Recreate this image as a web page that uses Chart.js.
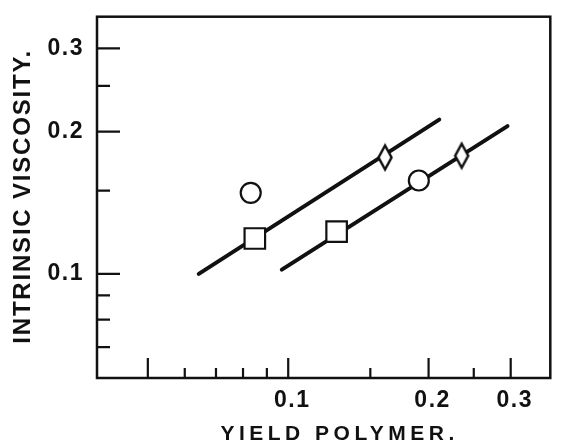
<!DOCTYPE html>
<html>
<head>
<meta charset="utf-8">
<script src="https://cdn.jsdelivr.net/npm/chart.js@4.4.1/dist/chart.umd.min.js"></script>
<style>
  html, body { margin: 0; padding: 0; background: #fff; }
  #wrap { width: 567px; height: 444px; }
</style>
</head>
<body>
<div id="wrap"><canvas id="grafico" width="567" height="444"></canvas></div>
<script>
// values
var lineA = [{x: 0.0643, y: 0.100}, {x: 0.2108, y: 0.212}];
var lineB = [{x: 0.0969, y: 0.1021}, {x: 0.2953, y: 0.2054}];
var squares = [{x: 0.0848, y: 0.1188}, {x: 0.127, y: 0.1228}];
var circles = [{x: 0.0831, y: 0.1484}, {x: 0.1906, y: 0.1576}];
var diamonds = [{x: 0.1613, y: 0.1763}, {x: 0.2355, y: 0.1778}];

var xLabels = [0.1, 0.2, 0.3];
var xMajor = [0.05, 0.1, 0.2, 0.3];
var xMinor = [0.06, 0.07, 0.08, 0.09, 0.15, 0.25];
var yLabels = [0.1, 0.2, 0.3];
var yMajor = [0.1, 0.2, 0.3];
var yMinor = [0.07, 0.08, 0.09, 0.15, 0.25];

var xTitle = 'YIELD POLYMER.';
var yTitle = 'INTRINSIC VISCOSITY.';

var ink = '#111';

// narrow open diamond marker
function diamondMark() {
    var c = document.createElement('canvas');
    c.width = 20;
    c.height = 30;
    var g = c.getContext('2d');
    g.beginPath();
    g.moveTo(10, 3);
    g.lineTo(16.5, 15);
    g.lineTo(10, 27);
    g.lineTo(3.5, 15);
    g.closePath();
    g.fillStyle = '#fff';
    g.fill();
    g.lineWidth = 2.5;
    g.strokeStyle = ink;
    g.stroke();
    return c;
}

// wider spacing for the tick labels, like the hand lettering
var spacing = {
    id: 'spacing',
    beforeDraw: function(chart) { chart.ctx.letterSpacing = '1.5px'; },
    beforeDatasetsDraw: function(chart) { chart.ctx.letterSpacing = '0px'; }
};

// frame, inward tick marks and spaced axis titles
var frame = {
    id: 'frame',
    afterDraw: function(chart) {
        var ctx = chart.ctx, a = chart.chartArea;
        var sx = chart.scales.x, sy = chart.scales.y;
        ctx.save();
        ctx.strokeStyle = ink;
        ctx.lineWidth = 2.5;
        ctx.strokeRect(a.left, a.top, a.right - a.left, a.bottom - a.top);

        ctx.lineWidth = 2.2;
        ctx.beginPath();
        xMajor.forEach(function(v) {
            var p = sx.getPixelForValue(v);
            ctx.moveTo(p, a.bottom);
            ctx.lineTo(p, a.bottom - 20);
        });
        xMinor.forEach(function(v) {
            var p = sx.getPixelForValue(v);
            ctx.moveTo(p, a.bottom);
            ctx.lineTo(p, a.bottom - 10);
        });
        yMajor.forEach(function(v) {
            var p = sy.getPixelForValue(v);
            ctx.moveTo(a.left, p);
            ctx.lineTo(a.left + 23, p);
        });
        yMinor.forEach(function(v) {
            var p = sy.getPixelForValue(v);
            ctx.moveTo(a.left, p);
            ctx.lineTo(a.left + 13, p);
        });
        ctx.stroke();

        ctx.fillStyle = ink;
        ctx.textAlign = 'center';
        ctx.textBaseline = 'middle';

        ctx.font = 'bold 21px "Liberation Sans"';
        ctx.letterSpacing = '4.5px';
        ctx.fillText(xTitle, (a.left + a.right) / 2 + 16, a.bottom + 56);

        ctx.translate(a.left - 74, (a.top + a.bottom) / 2);
        ctx.rotate(-Math.PI / 2);
        ctx.font = 'bold 24px "Liberation Sans"';
        ctx.letterSpacing = '1.8px';
        ctx.fillText(yTitle, 1, 0);
        ctx.restore();
    }
};

var tickFont = {family: 'Liberation Sans', size: 23, weight: 'bold'};

new Chart(document.getElementById('grafico'), {
    type: 'scatter',
    data: {
        datasets: [{
            data: squares,
            pointStyle: 'rect',
            pointRadius: 14.5,
            borderWidth: 2.2,
            borderColor: ink,
            backgroundColor: '#fff',
            order: 1
        }, {
            data: circles,
            pointStyle: 'circle',
            pointRadius: 10,
            borderWidth: 2.2,
            borderColor: ink,
            backgroundColor: '#fff',
            order: 1
        }, {
            data: diamonds,
            pointStyle: diamondMark(),
            pointRadius: 10,
            order: 1
        }, {
            data: lineA,
            showLine: true,
            pointRadius: 0,
            borderWidth: 4,
            borderColor: ink,
            borderCapStyle: 'round',
            order: 2
        }, {
            data: lineB,
            showLine: true,
            pointRadius: 0,
            borderWidth: 4,
            borderColor: ink,
            borderCapStyle: 'round',
            order: 2
        }]
    },
    options: {
        responsive: false,
        animation: false,
        events: [],
        layout: {padding: {top: 13, right: 1, left: 0, bottom: 0}},
        plugins: {legend: {display: false}, tooltip: {enabled: false}},
        scales: {
            x: {
                type: 'logarithmic',
                min: 0.0389,
                max: 0.3648,
                grid: {display: false},
                border: {display: false},
                afterFit: function(s) {
                    s.height = 66;
                    s.paddingLeft = 0;
                    s.paddingRight = 0;
                },
                afterBuildTicks: function(s) {
                    s.ticks = xLabels.map(function(v) { return {value: v}; });
                },
                ticks: {
                    autoSkip: false,
                    maxRotation: 0,
                    padding: 1,
                    labelOffset: 4,
                    color: ink,
                    font: tickFont,
                    callback: function(v) { return v.toFixed(1); }
                }
            },
            y: {
                type: 'logarithmic',
                min: 0.0602,
                max: 0.3501,
                grid: {display: false},
                border: {display: false},
                afterFit: function(s) {
                    s.width = 97;
                    s.paddingTop = 0;
                    s.paddingBottom = 0;
                },
                afterBuildTicks: function(s) {
                    s.ticks = yLabels.map(function(v) { return {value: v}; });
                },
                ticks: {
                    autoSkip: false,
                    padding: 5,
                    color: ink,
                    font: tickFont,
                    callback: function(v) { return v.toFixed(1); }
                }
            }
        }
    },
    plugins: [spacing, frame]
});
</script>
</body>
</html>
